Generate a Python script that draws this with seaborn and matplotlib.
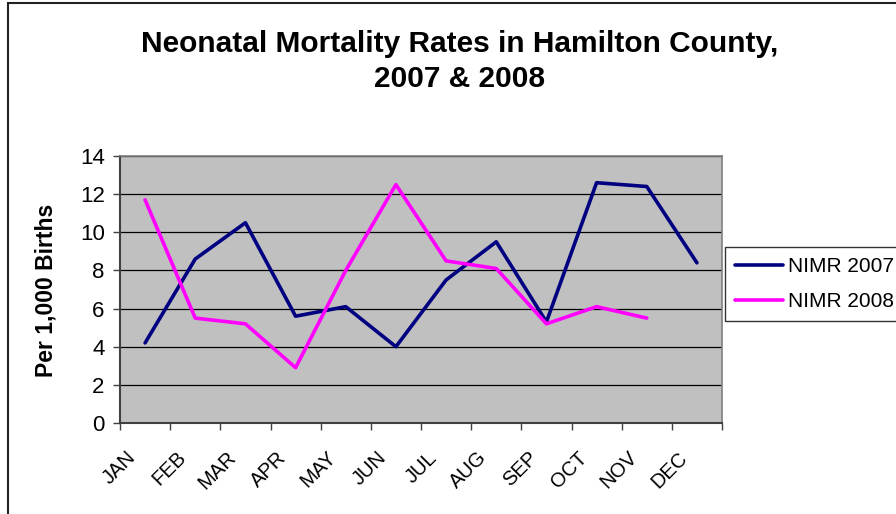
import numpy as np
import pandas as pd
import matplotlib
matplotlib.use("Agg")
import matplotlib.pyplot as plt
from matplotlib.patches import Rectangle
from matplotlib.ticker import FixedLocator, NullLocator
from matplotlib.transforms import ScaledTranslation, blended_transform_factory
import seaborn as sns

# Data
months = ['JAN', 'FEB', 'MAR', 'APR', 'MAY', 'JUN', 'JUL', 'AUG', 'SEP', 'OCT', 'NOV', 'DEC']
nimr_2007 = [4.2, 8.6, 10.5, 5.6, 6.1, 4.0, 7.5, 9.5, 5.3, 12.6, 12.4, 8.4]
nimr_2008 = [11.7, 5.5, 5.2, 2.9, 8.0, 12.5, 8.5, 8.1, 5.2, 6.1, 5.5, np.nan]
y_ticks = [0, 2, 4, 6, 8, 10, 12, 14]

df = pd.DataFrame({'month': np.arange(len(months)),
                   'NIMR 2007': nimr_2007,
                   'NIMR 2008': nimr_2008})
long = df.melt(id_vars='month', var_name='series', value_name='rate').dropna()

sns.set_style("white", {'text.color': 'black', 'axes.labelcolor': 'black',
                        'xtick.color': 'black', 'ytick.color': 'black'})
plt.rcParams['font.family'] = ['Liberation Sans', 'DejaVu Sans']

fig = plt.figure(figsize=(8.96, 5.14), dpi=100)
ax = fig.add_axes([120/896, 1 - 423/514, 602/896, 267/514])

sns.lineplot(data=long, x='month', y='rate', hue='series',
             palette={'NIMR 2007': '#000080', 'NIMR 2008': '#FF00FF'},
             linewidth=2.6, ax=ax, legend=True)

ax.set_facecolor('#C0C0C0')
ax.set_xlim(-0.5, 11.5)
ax.set_ylim(0, 14)
ax.set_yticks(y_ticks)
ax.set_yticklabels([str(v) for v in y_ticks], fontsize=16)
ax.yaxis.grid(True, color='black', linewidth=0.9)
ax.set_axisbelow(True)

# tick marks between categories, labels at category centres
ax.xaxis.set_major_locator(FixedLocator(np.arange(-0.5, 12, 1)))
ax.xaxis.set_minor_locator(NullLocator())
ax.set_xticklabels([])
ax.tick_params(axis='x', which='major', length=5, width=1, color='#404040', bottom=True)
ax.tick_params(axis='y', length=5, width=1, color='#404040', left=True, pad=6)

lab_trans = blended_transform_factory(ax.transData, ax.transAxes) + \
    ScaledTranslation(-19/100, -25/100, fig.dpi_scale_trans)
for i, m in enumerate(months):
    ax.text(i, 0, m, transform=lab_trans, rotation=45, ha='right', va='top',
            rotation_mode='anchor', fontsize=14.5, color='black')

for s in ['left', 'bottom']:
    ax.spines[s].set_color('#404040')
    ax.spines[s].set_linewidth(1.5)
for s in ['top', 'right']:
    ax.spines[s].set_color('#808080')
    ax.spines[s].set_linewidth(1.2)

ax.set_xlabel('')
ax.set_ylabel('Per 1,000 Births', fontsize=16.5, fontweight='bold')
ax.yaxis.set_label_coords(57/896, 1 - 290/514, transform=fig.transFigure)

fig.text(460/896, 1 - 44/514, 'Neonatal Mortality Rates in Hamilton County,',
         ha='center', va='center', fontsize=21.5, fontweight='bold')
fig.text(460/896, 1 - 79/514, '2007 & 2008',
         ha='center', va='center', fontsize=21.5, fontweight='bold')

leg = ax.legend(loc='upper left', bbox_to_anchor=(725/896, 1 - 247/514),
                bbox_transform=fig.transFigure, fontsize=15, frameon=True,
                fancybox=False, edgecolor='black', handlelength=2.3,
                handletextpad=0.2, borderaxespad=0, borderpad=0.5,
                labelspacing=0.75)
leg.get_frame().set_linewidth(1.0)
for line in leg.get_lines():
    line.set_linewidth(2.6)

# chart border (runs off the right and bottom edges)
fig.patches.append(Rectangle((8/896, -0.2), 1.2, 1.2 - 3/514,
                             transform=fig.transFigure, fill=False,
                             edgecolor='#222222', linewidth=1.5))

fig.savefig('out.png', dpi=100)
